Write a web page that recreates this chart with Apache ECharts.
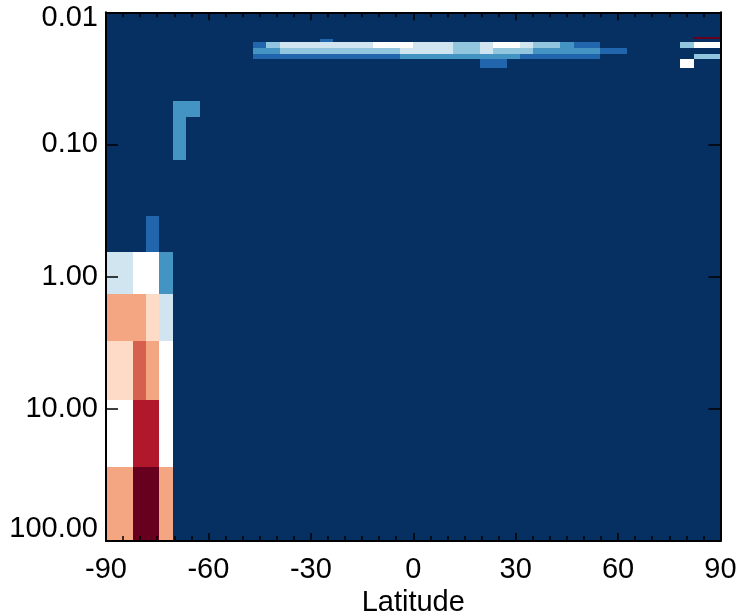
<!DOCTYPE html>
<html>
<head>
<meta charset="utf-8">
<script src="https://cdn.jsdelivr.net/npm/echarts@6/dist/echarts.min.js"></script>
<style>html,body{margin:0;padding:0;background:#fff}#c{width:754px;height:616px}</style>
</head>
<body>
<div id="c"></div>
<script>
// Latitude tick labels
var xTicks = [-90, -60, -30, 0, 30, 60, 90];
// Pressure tick labels
var yTicks = [0.01, 0.1, 1, 10, 100];
// Number of latitude bins spanning -90..90
var nLat = 46;
// Pressure level boundaries (top to bottom)
var pEdges = [0.01, 0.0154, 0.0160, 0.0169, 0.0186, 0.0205, 0.0225, 0.0262, 0.0465, 0.0621, 0.131, 0.347, 0.647, 1.35, 3.05, 8.58, 27.4, 100];
// Colour level per cell (one string per pressure row, one char per latitude bin; 'a' = 10)
var levels = [
  "0000000000000000000000000000000000000000000000",
  "00000000000000000000000000000000000000000000aa",
  "0000000000000000100000000000000000000000000000",
  "0000000000013444444455544433455433211000000355",
  "0000000000022333333333444433433322222110000000",
  "0000000000011111111111222222222111111000000033",
  "0000000000000000000000000000110000000000000500",
  "0000000000000000000000000000000000000000000000",
  "0000022000000000000000000000000000000000000000",
  "0000020000000000000000000000000000000000000000",
  "0000000000000000000000000000000000000000000000",
  "0001000000000000000000000000000000000000000000",
  "4455200000000000000000000000000000000000000000",
  "7776400000000000000000000000000000000000000000",
  "6687500000000000000000000000000000000000000000",
  "5599500000000000000000000000000000000000000000",
  "77aa700000000000000000000000000000000000000000"
];
var palette = ['#053061','#2166ac','#4393c3','#92c5de','#d1e5f0','#ffffff','#fddbc7','#f4a582','#d6604d','#b2182b','#67001f'];

var latEdges = [];
for (var i = 0; i <= nLat; i++) latEdges.push(-90 + i * 180 / nLat);

var cells = [];
levels.forEach(function (row, r) {
  for (var c = 0; c < row.length; c++) {
    cells.push([c, r, parseInt(row[c], 16)]);
  }
});

var font = 'Liberation Sans, Arial, Helvetica, sans-serif';
var fs = 29;
function xAxisDef(pos, showLabel) {
  return {
    type: 'value', position: pos, min: -90, max: 90, interval: 30, z: 10,
    name: showLabel ? 'Latitude' : '', nameLocation: 'middle', nameGap: 46,
    nameTextStyle: {color: '#000', fontSize: fs, fontFamily: font},
    axisLine: {show: true, onZero: false, lineStyle: {color: '#000', width: 2}},
    axisTick: {show: true, inside: true, length: 8, lineStyle: {color: '#000', width: 1.5}},
    minorTick: {show: true, splitNumber: 6, length: 5, lineStyle: {color: '#000', width: 1.5}},
    axisLabel: {show: showLabel, color: '#000', fontSize: fs, fontFamily: font, margin: 14},
    splitLine: {show: false}, minorSplitLine: {show: false}
  };
}
function yAxisDef(pos, showLabel) {
  return {
    type: 'log', logBase: 10, position: pos, min: 0.01, max: 100, inverse: true, z: 10,
    axisLine: {show: true, onZero: false, lineStyle: {color: '#000', width: 2}},
    axisTick: {show: true, inside: true, length: 12, lineStyle: {color: '#000', width: 1.5}},
    axisLabel: {
      show: showLabel, color: '#000', fontSize: fs, fontFamily: font, margin: 8,
      formatter: function (v) {
        var s = Number(v).toFixed(2);
        if (Math.abs(v - yTicks[0]) < 1e-9) return '{t|' + s + '}';
        if (Math.abs(v - yTicks[yTicks.length - 1]) < 1e-6) return '{b|' + s + '}';
        return s;
      },
      rich: {
        t: {fontSize: fs, fontFamily: font, color: '#000', padding: [12, 0, 0, 0]},
        b: {fontSize: fs, fontFamily: font, color: '#000', padding: [0, 0, 24, 0]}
      }
    },
    splitLine: {show: false}
  };
}

var chart = echarts.init(document.getElementById('c'), null, {renderer: 'canvas'});
chart.setOption({
  animation: false,
  backgroundColor: '#fff',
  grid: {left: 106, top: 12.3, right: 33.5, bottom: 75, containLabel: false, outerBoundsMode: 'none'},
  xAxis: [xAxisDef('bottom', true), xAxisDef('top', false)],
  yAxis: [yAxisDef('left', true), yAxisDef('right', false)],
  series: [{
    type: 'custom',
    xAxisIndex: 0, yAxisIndex: 0,
    data: cells,
    clip: true,
    renderItem: function (params, api) {
      var c = api.value(0), r = api.value(1), v = api.value(2);
      var p0 = api.coord([latEdges[c], pEdges[r]]);
      var p1 = api.coord([latEdges[c + 1], pEdges[r + 1]]);
      var x0 = Math.round(Math.min(p0[0], p1[0])), x1 = Math.round(Math.max(p0[0], p1[0]));
      var y0 = Math.round(Math.min(p0[1], p1[1])), y1 = Math.round(Math.max(p0[1], p1[1]));
      return {
        type: 'rect',
        shape: {x: x0, y: y0, width: x1 - x0, height: y1 - y0},
        style: {fill: palette[v], stroke: null}
      };
    }
  }]
});
</script>
</body>
</html>
